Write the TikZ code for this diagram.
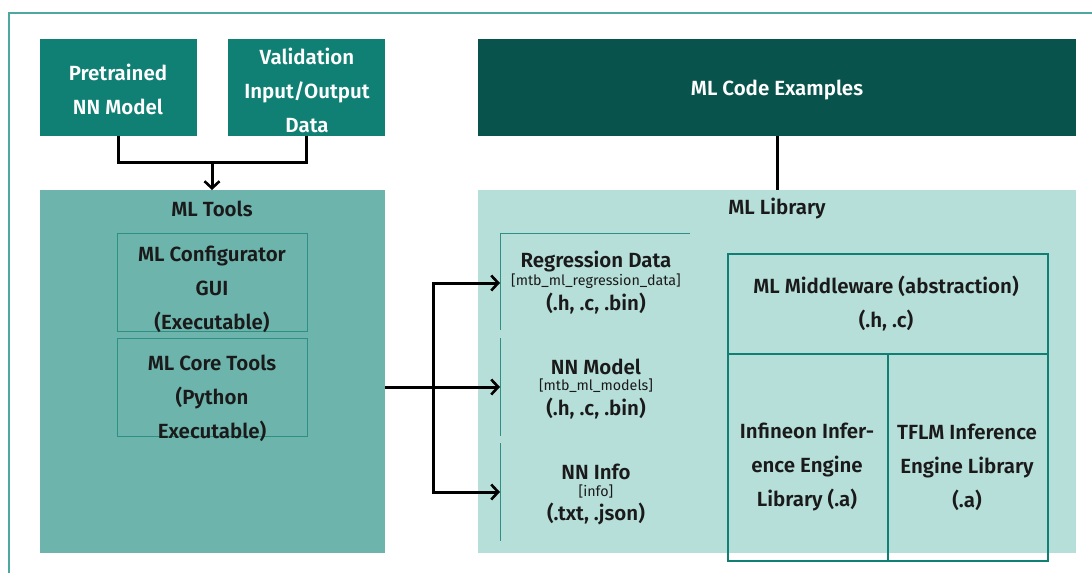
\documentclass[tikz,border=0pt]{standalone}
\usepackage{fontspec}
\setmainfont{Fira Sans}[BoldFont={Fira Sans SemiBold}]
\usetikzlibrary{arrows.meta}
\definecolor{tealmid}{HTML}{0F8073}
\definecolor{tealdark}{HTML}{08544C}
\definecolor{toolsbg}{HTML}{6DB4AC}
\definecolor{libbg}{HTML}{B7DFDA}
\definecolor{edge}{HTML}{2E8F84}
\definecolor{frameline}{HTML}{4FA89F}
\definecolor{ink}{HTML}{1A1A1A}
\tikzset{
  x=1pt, y=-1pt,
  every node/.style={font=\bfseries\fontsize{20.5}{34}\selectfont, text=ink, inner sep=0pt},
  block/.style={anchor=north west, minimum width=#1, fill=tealmid, draw=none},
  area/.style={anchor=north west, draw=none},
  subbox/.style={anchor=north west, draw=edge, line width=0.8pt},
  libbox/.style={anchor=north west, draw=tealmid, line width=1.8pt},
  lbl/.style={align=center},
  wlbl/.style={align=center, text=white},
  small/.style={font=\fontsize{14.3}{16}\selectfont},
  wire/.style={line width=3pt, black},
  arr/.style={wire, -{Straight Barb[length=7pt,width=15pt,line width=2.6pt]}},
  entryline/.style={draw=edge, line width=1pt},
}
\begin{document}
\begin{tikzpicture}
\useasboundingbox (0,0) rectangle (1092,573);
% outer frame (top and left edges)
\draw[frameline, line width=1.4pt] (9,573) -- (9,13) -- (1092,13);

% input boxes
\node[block=157pt, minimum height=97pt] (pre) at (40,39) {};
\node[wlbl] (pretxt) at (118,89) {Pretrained\\NN Model};
\node[block=157pt, minimum height=97pt] (val) at (228,39) {};
\node[wlbl] (valtxt) at (307,90) {Validation\\Input/Output\\Data};
\node[block=598pt, minimum height=97pt, fill=tealdark] (code) at (478,39) {};
\node[wlbl] (codetxt) at (777,90) {ML Code Examples};

% tools area
\node[area, fill=toolsbg, minimum width=345pt, minimum height=363pt] (tools) at (40,190) {};
\node[lbl] (toolslbl) at (212,209) {ML Tools};
\node[subbox, minimum width=190pt, minimum height=98pt] (cfg) at (117,233) {};
\node[lbl] at (212,289) (cfgtxt) {ML Configurator\\GUI\\(Executable)};
\node[subbox, minimum width=190pt, minimum height=98pt] (core) at (117,338) {};
\node[lbl] at (212,398) (coretxt) {ML Core Tools\\(Python\\Executable)};

% library area
\node[area, fill=libbg, minimum width=598pt, minimum height=363pt] (lib) at (478,190) {};
\node[lbl] (liblbl) at (777,209) {ML Library};

% data entries
\coordinate (regA) at (500,283);
\coordinate (nnA) at (500,387);
\coordinate (infA) at (500,492);
\draw[entryline] (500,330) -- (500,233) -- (690,233);
\draw[entryline] (500,338) -- (500,436);
\draw[entryline] (500,443) -- (500,541);
\node[lbl] (reg) at (596,262) {Regression Data};
\node[small] (regsub) at (596,281) {[mtb\_ml\_regression\_data]};
\node[lbl] (regext) at (596,304) {(.h, .c, .bin)};
\node[lbl] (nn) at (596,367) {NN Model};
\node[small] (nnsub) at (596,386) {[mtb\_ml\_models]};
\node[lbl] (nnext) at (596,409) {(.h, .c, .bin)};
\node[lbl] (inf) at (596,472) {NN Info};
\node[small] (infsub) at (596,491) {[info]};
\node[lbl] (infext) at (596,514) {(.txt, .json)};

% middleware and engines
\node[libbox, minimum width=320pt, minimum height=100pt] (mw) at (727,253) {};
\node[lbl] (mwtxt) at (886,304) {ML Middleware (abstraction)\\(.h, .c)};
\node[libbox, minimum width=160pt, minimum height=207pt] (ifx) at (727,353) {};
\node[lbl] (ifxtxt) at (807,467) {Infineon Infer-\\ence Engine\\Library (.a)};
\node[libbox, minimum width=160pt, minimum height=207pt] (tflm) at (887,353) {};
\node[lbl] (tflmtxt) at (967,467) {TFLM Inference\\Engine Library\\(.a)};

% connectors
\coordinate (join) at (212,162);
\draw[wire] (pre.south) |- (join) -| (val.south);
\draw[arr] (join) -- (tools.north -| join);
\draw[wire] (code.south -| 777,0) -- (lib.north -| 777,0);
\coordinate (split) at (433,387);
\draw[arr] (tools.east |- nnA) -- (nnA);
\draw[arr] (split) |- (regA);
\draw[arr] (split) |- (infA);
\end{tikzpicture}
\end{document}
